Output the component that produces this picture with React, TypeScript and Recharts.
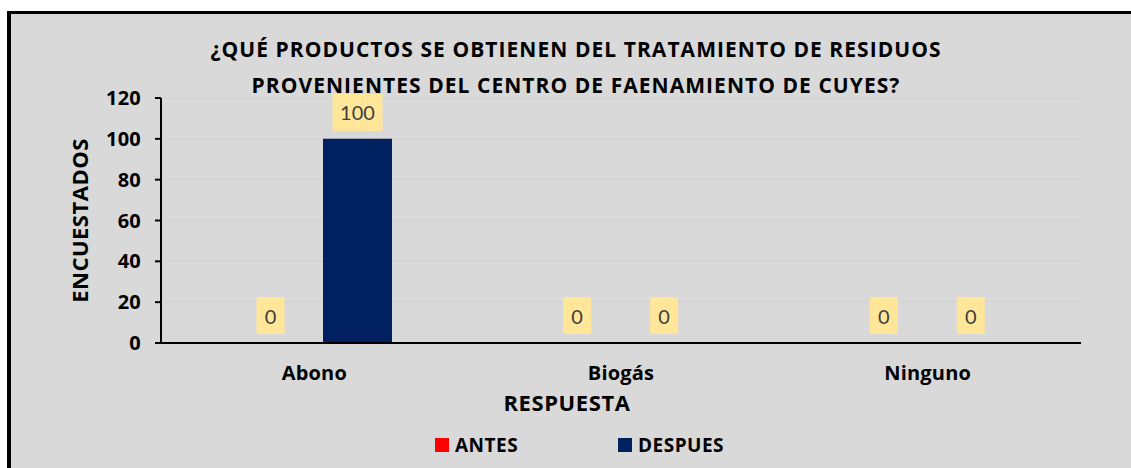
import React from 'react';
import { BarChart, Bar, XAxis, YAxis, CartesianGrid, LabelList, Cell } from 'recharts';

// chart values
const categories = ['Abono', 'Biogás', 'Ninguno'];
const antesValues = [0, 0, 0];
const despuesValues = [100, 0, 0];
const yTicks = [0, 20, 40, 60, 80, 100, 120];

const seriesNames = ['ANTES', 'DESPUES'];
const seriesColors = ['#FF0000', '#002060'];

const titleLines = [
  '¿QUÉ PRODUCTOS SE OBTIENEN DEL TRATAMIENTO DE RESIDUOS',
  'PROVENIENTES DEL CENTRO DE FAENAMIENTO DE CUYES?'
];

const data = categories.map((name, i) => ({
  name,
  antes: antesValues[i],
  despues: despuesValues[i]
}));

const FONT = '"Open Sans", Lato, sans-serif';

// Yellow boxed value label, like the Excel data callouts
const BoxLabel = (props: any) => {
  const { x, y, width, value } = props;
  const cx = Number(x) + Number(width) / 2;
  const boxW = String(value).length * 11 + 17;
  const boxH = 37;
  const bottom = Number(y) - 8;
  return (
    <g>
      <rect x={cx - boxW / 2} y={bottom - boxH} width={boxW} height={boxH} fill="#FFE699" />
      <text
        x={cx}
        y={bottom - boxH / 2}
        textAnchor="middle"
        dominantBaseline="central"
        fill="#404040"
        fontSize={20}
        fontFamily="Lato, sans-serif"
      >
        {value}
      </text>
    </g>
  );
};

// zero bars get a 1px invisible stub so their labels are still placed
const renderBar = (key: 'antes' | 'despues', idx: number) => (
  <Bar
    dataKey={key}
    name={seriesNames[idx]}
    fill={seriesColors[idx]}
    minPointSize={1}
    isAnimationActive={false}
  >
    {data.map((d, i) => (
      <Cell key={i} fill={seriesColors[idx]} fillOpacity={d[key] === 0 ? 0 : 1} />
    ))}
    <LabelList dataKey={key} content={<BoxLabel />} />
  </Bar>
);

const tickStyle = { fill: '#000', fontSize: 20, fontWeight: 700, fontFamily: FONT, letterSpacing: 0.2 };

export default function App() {
  return (
    <div
      style={{
        position: 'absolute',
        left: 0,
        top: 0,
        width: 1131,
        height: 468,
        overflow: 'hidden',
        background: '#fff',
        fontFamily: FONT
      }}
    >
      {/* grey chart frame */}
      <div
        style={{
          position: 'absolute',
          left: 7,
          top: 11,
          width: 1200,
          height: 500,
          background: '#D9D9D9',
          borderTop: '3px solid #000',
          borderLeft: '4px solid #000'
        }}
      />

      {/* title */}
      <div
        style={{
          position: 'absolute',
          left: 0,
          top: 31,
          width: 1152,
          textAlign: 'center',
          fontSize: 21,
          fontWeight: 700,
          letterSpacing: 1.05,
          lineHeight: '36px',
          color: '#000'
        }}
      >
        {titleLines.map((t) => (
          <div key={t}>{t}</div>
        ))}
      </div>

      <div style={{ position: 'absolute', left: 0, top: 0 }}>
        <BarChart
          width={1131}
          height={468}
          data={data}
          margin={{ top: 98, right: 50, bottom: 95, left: 101 }}
          barSize={69}
          barGap={18}
        >
          <CartesianGrid vertical={false} stroke="#D0D0D0" />
          <XAxis
            dataKey="name"
            height={30}
            axisLine={{ stroke: '#000', strokeWidth: 2 }}
            tickLine={false}
            tickMargin={17}
            tick={tickStyle}
          />
          <YAxis
            width={60}
            domain={[0, 120]}
            ticks={yTicks}
            interval={0}
            axisLine={{ stroke: '#000', strokeWidth: 2 }}
            tickLine={{ stroke: '#000', strokeWidth: 2 }}
            tickSize={6}
            tickMargin={14}
            tick={tickStyle}
            label={{
              value: 'ENCUESTADOS',
              angle: -90,
              position: 'insideLeft',
              offset: -21,
              style: {
                textAnchor: 'middle',
                fill: '#000',
                fontSize: 22,
                fontWeight: 700,
                fontFamily: FONT,
                letterSpacing: 0.5
              }
            }}
          />
          {renderBar('antes', 0)}
          {renderBar('despues', 1)}
        </BarChart>
      </div>

      {/* x axis title */}
      <div
        style={{
          position: 'absolute',
          left: 0,
          top: 387,
          width: 1134,
          textAlign: 'center',
          fontSize: 22,
          fontWeight: 700,
          letterSpacing: 0.6,
          color: '#000'
        }}
      >
        RESPUESTA
      </div>

      {/* legend */}
      <div style={{ position: 'absolute', left: 435, top: 432, display: 'flex', alignItems: 'center' }}>
        {seriesNames.map((n, i) => (
          <div key={n} style={{ display: 'flex', alignItems: 'center', width: i === 0 ? 183 : 'auto' }}>
            <span style={{ width: 14, height: 14, background: seriesColors[i], display: 'inline-block' }} />
            <span
              style={{
                marginLeft: 6,
                fontSize: 19,
                fontWeight: 700,
                letterSpacing: 0.5,
                color: '#000',
                lineHeight: '26px'
              }}
            >
              {n}
            </span>
          </div>
        ))}
      </div>
    </div>
  );
}
